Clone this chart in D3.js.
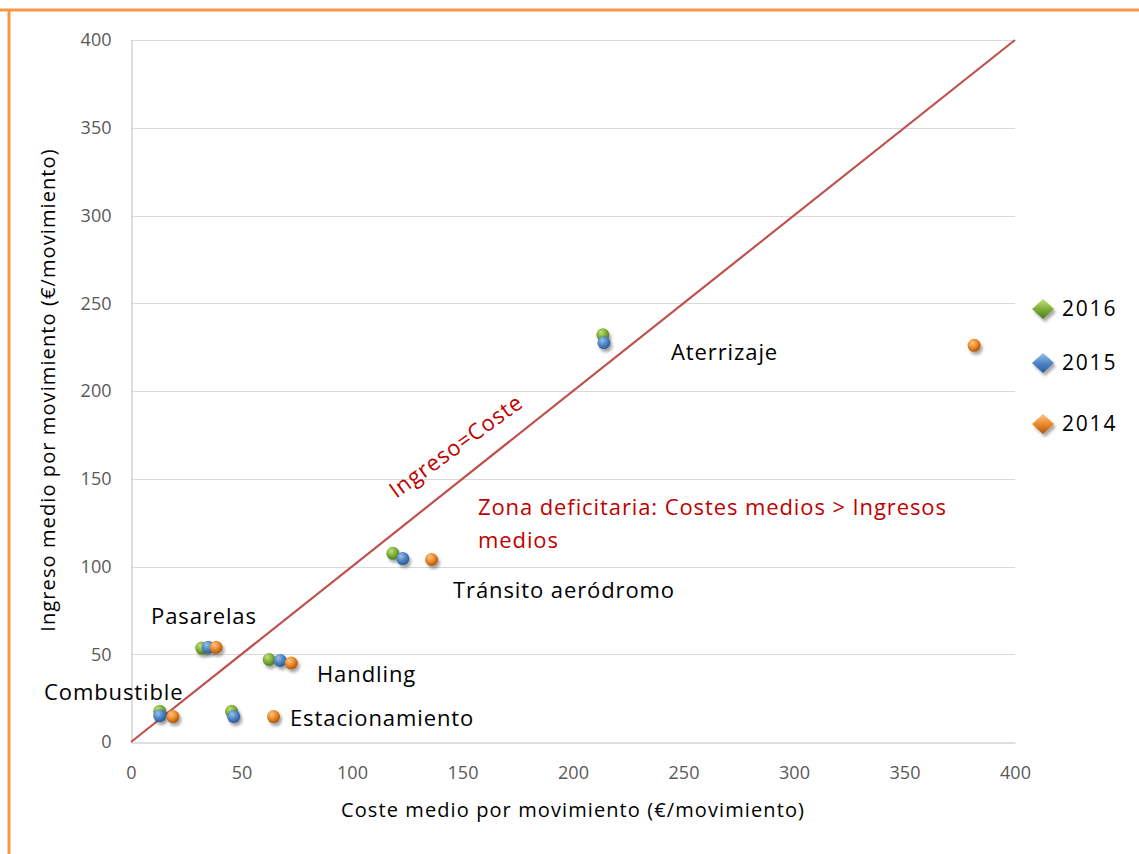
<!DOCTYPE html>
<html>
<head>
<meta charset="utf-8">
<script src="https://cdn.jsdelivr.net/npm/d3@7"></script>
<style>
  html, body { margin: 0; padding: 0; background: #fff; }
  svg { display: block; font-family: "Open Sans", Lato, sans-serif; }
</style>
</head>
<body>
<svg id="chart" width="1139" height="854"></svg>
<script>
// Cost vs revenue per movement, by service and year
const services = ["Aterrizaje", "Tránsito aeródromo", "Pasarelas", "Handling", "Combustible", "Estacionamiento"];
const years = ["2016", "2015", "2014"];
const cost2016 = [213.5, 118.5, 32, 62.5, 13, 45.5];
const income2016 = [232, 107.5, 53.5, 47, 17.5, 17.5];
const cost2015 = [214, 123, 35, 67.5, 13, 46.5];
const income2015 = [227.5, 104.5, 54, 46.5, 15, 14.5];
const cost2014 = [381.5, 136, 38.5, 72.5, 19, 64.5];
const income2014 = [226, 104, 54, 45, 14.5, 14.5];
const xTicks = [0, 50, 100, 150, 200, 250, 300, 350, 400];
const yTicks = [0, 50, 100, 150, 200, 250, 300, 350, 400];

const seriesColors = {
  "2016": ["#c4e07a", "#7fae3a", "#4f7a1c"],
  "2015": ["#9cc2ea", "#4f86c6", "#2c5a94"],
  "2014": ["#fbc58a", "#ee8a2a", "#a8560e"]
};
const seriesData = {
  "2016": [cost2016, income2016],
  "2015": [cost2015, income2015],
  "2014": [cost2014, income2014]
};

const svg = d3.select("#chart");
const W = 1139, H = 854;
const plotLeft = 131, plotRight = 1015, plotTop = 40, plotBottom = 742;

const x = d3.scaleLinear().domain([0, 400]).range([plotLeft, plotRight]);
const y = d3.scaleLinear().domain([0, 400]).range([plotBottom, plotTop]);

// gradients
const defs = svg.append("defs");
years.forEach(yr => {
  const c = seriesColors[yr];
  const g = defs.append("radialGradient").attr("id", "ball" + yr)
    .attr("cx", "40%").attr("cy", "35%").attr("r", "65%").attr("fx", "35%").attr("fy", "30%");
  g.append("stop").attr("offset", "0%").attr("stop-color", c[0]);
  g.append("stop").attr("offset", "55%").attr("stop-color", c[1]);
  g.append("stop").attr("offset", "100%").attr("stop-color", c[2]);
  const d = defs.append("linearGradient").attr("id", "dia" + yr)
    .attr("x1", "0").attr("y1", "0").attr("x2", "0").attr("y2", "1");
  d.append("stop").attr("offset", "0%").attr("stop-color", c[0]);
  d.append("stop").attr("offset", "50%").attr("stop-color", c[1]);
  d.append("stop").attr("offset", "100%").attr("stop-color", c[2]);
});
const shadow = defs.append("filter").attr("id", "shadow").attr("x", "-50%").attr("y", "-50%").attr("width", "200%").attr("height", "200%");
shadow.append("feGaussianBlur").attr("in", "SourceAlpha").attr("stdDeviation", 1.6);
shadow.append("feOffset").attr("dx", 1.5).attr("dy", 2.5).attr("result", "off");
shadow.append("feComponentTransfer").append("feFuncA").attr("type", "linear").attr("slope", 0.35);
const merge = shadow.append("feMerge");
merge.append("feMergeNode");
merge.append("feMergeNode").attr("in", "SourceGraphic");

// frame
svg.append("line").attr("x1", 0).attr("x2", W).attr("y1", 10).attr("y2", 10)
  .attr("stroke", "#f79646").attr("stroke-width", 3);
svg.append("line").attr("x1", 9).attr("x2", 9).attr("y1", 9).attr("y2", H)
  .attr("stroke", "#f79646").attr("stroke-width", 3);

// gridlines
svg.append("g").selectAll("line").data(yTicks.filter(t => t > 0)).join("line")
  .attr("x1", plotLeft).attr("x2", plotRight)
  .attr("y1", d => Math.round(y(d)) + 0.5).attr("y2", d => Math.round(y(d)) + 0.5)
  .attr("stroke", "#d9d9d9").attr("stroke-width", 1);

// axes
const xAxis = svg.append("g").attr("transform", `translate(0,${plotBottom + 0.5})`)
  .call(d3.axisBottom(x).tickValues(xTicks).tickSize(0).tickPadding(22));
const yAxis = svg.append("g").attr("transform", `translate(${plotLeft + 0.5},0)`)
  .call(d3.axisLeft(y).tickValues(yTicks).tickSize(0).tickPadding(20));
[xAxis, yAxis].forEach(a => {
  a.select(".domain").attr("stroke", "#bfbfbf").attr("stroke-width", 1);
  a.selectAll("text").attr("fill", "#595959").attr("font-size", 18)
    .attr("font-family", "'Open Sans', sans-serif");
});
xAxis.selectAll("text").attr("dy", "0.35em").attr("y", 30);

// break-even line
svg.append("line")
  .attr("x1", x(0)).attr("y1", y(0)).attr("x2", x(400)).attr("y2", y(400))
  .attr("stroke", "#c0504d").attr("stroke-width", 2.2);

// points
years.forEach(yr => {
  const [cx, cy] = seriesData[yr];
  svg.append("g").attr("filter", "url(#shadow)").selectAll("circle")
    .data(services.map((s, i) => ({ c: cx[i], v: cy[i] })))
    .join("circle")
    .attr("cx", d => x(d.c)).attr("cy", d => y(d.v)).attr("r", 6.5)
    .attr("fill", `url(#ball${yr})`);
});

// service labels
const labelPos = [
  { dx: 671, dy: 360 },
  { dx: 453, dy: 598 },
  { dx: 151, dy: 624 },
  { dx: 317, dy: 682 },
  { dx: 44, dy: 700 },
  { dx: 290, dy: 726 }
];
const labelFont = 22, labelSpacing = 0.9;
svg.append("g").selectAll("text").data(services).join("text")
  .attr("x", (d, i) => labelPos[i].dx).attr("y", (d, i) => labelPos[i].dy)
  .attr("font-size", labelFont).attr("letter-spacing", labelSpacing)
  .attr("fill", "#000").text(d => d);

// annotations
svg.append("text").attr("x", 478).attr("y", 515).attr("font-size", labelFont)
  .attr("letter-spacing", labelSpacing).attr("fill", "#c00000")
  .text("Zona deficitaria: Costes medios > Ingresos");
svg.append("text").attr("x", 478).attr("y", 548).attr("font-size", labelFont)
  .attr("letter-spacing", labelSpacing).attr("fill", "#c00000")
  .text("medios");
svg.append("text").attr("transform", "translate(456,446) rotate(-36)")
  .attr("text-anchor", "middle").attr("dy", "0.35em").attr("font-size", labelFont)
  .attr("letter-spacing", labelSpacing).attr("fill", "#c00000")
  .text("Ingreso=Coste");

// axis titles
svg.append("text").attr("x", 573).attr("y", 817).attr("text-anchor", "middle")
  .attr("font-size", 20).attr("letter-spacing", 1.1).attr("fill", "#000")
  .text("Coste medio por movimiento (€/movimiento)");
svg.append("text").attr("transform", "translate(48,390) rotate(-90)")
  .attr("text-anchor", "middle").attr("dy", "0.35em")
  .attr("font-size", 20).attr("letter-spacing", 1.1).attr("fill", "#000")
  .text("Ingreso medio por movimiento (€/movimiento)");

// legend
const legY = [309, 363, 424];
const leg = svg.append("g").selectAll("g").data(years).join("g")
  .attr("transform", (d, i) => `translate(1043,${legY[i]})`);
leg.append("path").attr("d", "M0,-10 L11,0 L0,10 L-11,0 Z")
  .attr("fill", d => `url(#dia${d})`).attr("filter", "url(#shadow)");
leg.append("text").attr("x", 19).attr("dy", "0.35em").attr("font-size", 21)
  .attr("letter-spacing", 1.8).attr("fill", "#000")
  .text(d => d);
</script>
</body>
</html>
